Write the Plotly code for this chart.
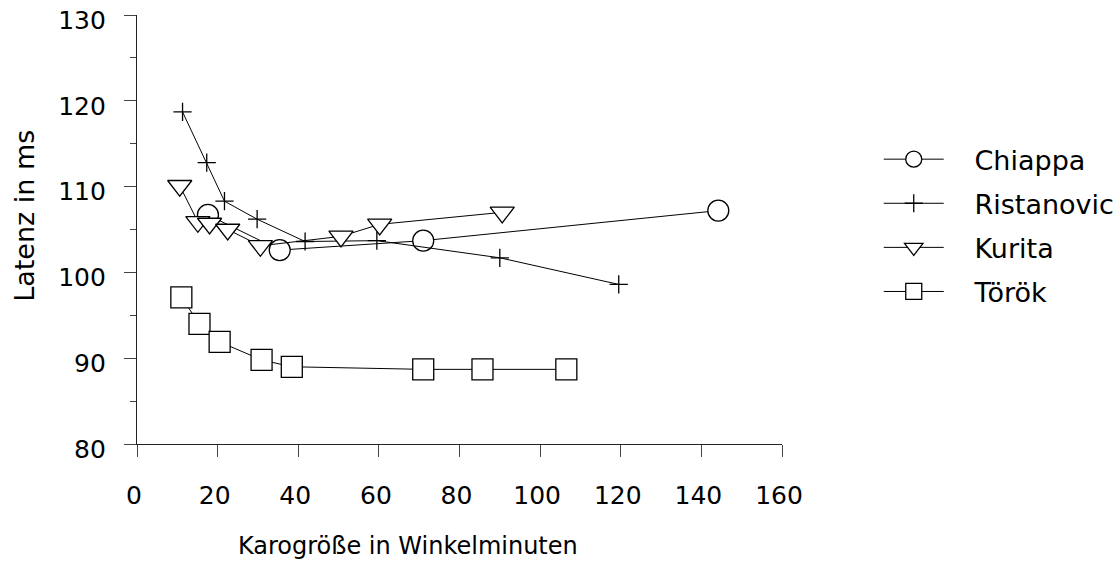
import plotly.graph_objects as go

# Latency vs. check size, four studies
chiappa_x = [17.6, 35.4, 71.0, 144.2]
chiappa_y = [106.7, 102.6, 103.7, 107.2]

ristanovic_x = [11.3, 17.3, 21.7, 29.8, 41.7, 59.5, 90.0, 119.5]
ristanovic_y = [118.7, 112.8, 108.3, 106.2, 103.6, 103.7, 101.7, 98.6]

kurita_x = [10.6, 15.1, 18.0, 22.5, 30.6, 50.6, 60.2, 90.6]
kurita_y = [110.1, 105.9, 105.7, 105.0, 103.1, 104.2, 105.6, 107.0]

torok_x = [11.0, 15.5, 20.5, 30.9, 38.4, 71.0, 85.7, 106.5]
torok_y = [97.1, 94.0, 91.9, 89.8, 89.0, 88.7, 88.7, 88.7]

x_ticks = [0, 20, 40, 60, 80, 100, 120, 140, 160]
y_ticks = [80, 90, 100, 110, 120, 130]

series = [
    ("Chiappa", chiappa_x, chiappa_y, "circle", 21),
    ("Ristanovic", ristanovic_x, ristanovic_y, "cross-thin", 13),
    ("Kurita", kurita_x, kurita_y, "triangle-down", 21),
    ("Török", torok_x, torok_y, "square", 21),
]

FONT = "DejaVu Sans"
PAD = "\u00a0\u00a0\u00a0"  # gap between legend symbol and label

fig = go.Figure()
for name, xs, ys, sym, size in series:
    fig.add_trace(go.Scatter(
        x=xs, y=ys, name=PAD + name, mode="lines+markers", legendgroup=name,
        line=dict(color="black", width=1),
        marker=dict(symbol=sym, size=size, color="white",
                    line=dict(color="black", width=1.3)),
    ))

fig.update_layout(
    width=1115, height=564,
    margin=dict(l=137, r=333, t=15, b=120, autoexpand=False),
    plot_bgcolor="white", paper_bgcolor="white",
    font=dict(family=FONT, size=24, color="black"),
    showlegend=True,
    legend=dict(
        x=1.150, y=0.72, xanchor="left", yanchor="top",
        font=dict(family=FONT, size=27, color="black"),
        itemwidth=60, itemsizing="trace", tracegroupgap=6,
        bgcolor="rgba(0,0,0,0)",
    ),
    annotations=[
        dict(text="Karogröße in Winkelminuten", xref="paper", yref="paper",
             x=0.42, y=-0.237, xanchor="center", yanchor="middle",
             showarrow=False, font=dict(family=FONT, size=24)),
        dict(text="Latenz in ms", xref="paper", yref="paper",
             x=-0.1736, y=0.532, xanchor="center", yanchor="middle",
             textangle=-90, showarrow=False, font=dict(family=FONT, size=27)),
    ],
)

fig.update_xaxes(
    range=[0, 160], tickvals=x_ticks, automargin=False,
    showgrid=False, zeroline=False, showline=True, linecolor="#222", linewidth=1.3,
    ticks="outside", ticklen=12, tickwidth=1, tickcolor="#444",
    tickfont=dict(family=FONT, size=25), ticklabelstandoff=17, ticklabelshift=-3,
)
fig.update_yaxes(
    range=[80, 130], tickvals=y_ticks, automargin=False,
    showgrid=False, zeroline=False, showline=True, linecolor="#222", linewidth=1.3,
    ticks="outside", ticklen=12, tickwidth=1, tickcolor="#444",
    minor=dict(dtick=5, ticks="outside", ticklen=6, tickcolor="#444", showgrid=False),
    tickfont=dict(family=FONT, size=25), ticklabelstandoff=13,
    ticklabelshift=5, ticklabeloverflow="allow",
)

fig.write_html("out.html")
